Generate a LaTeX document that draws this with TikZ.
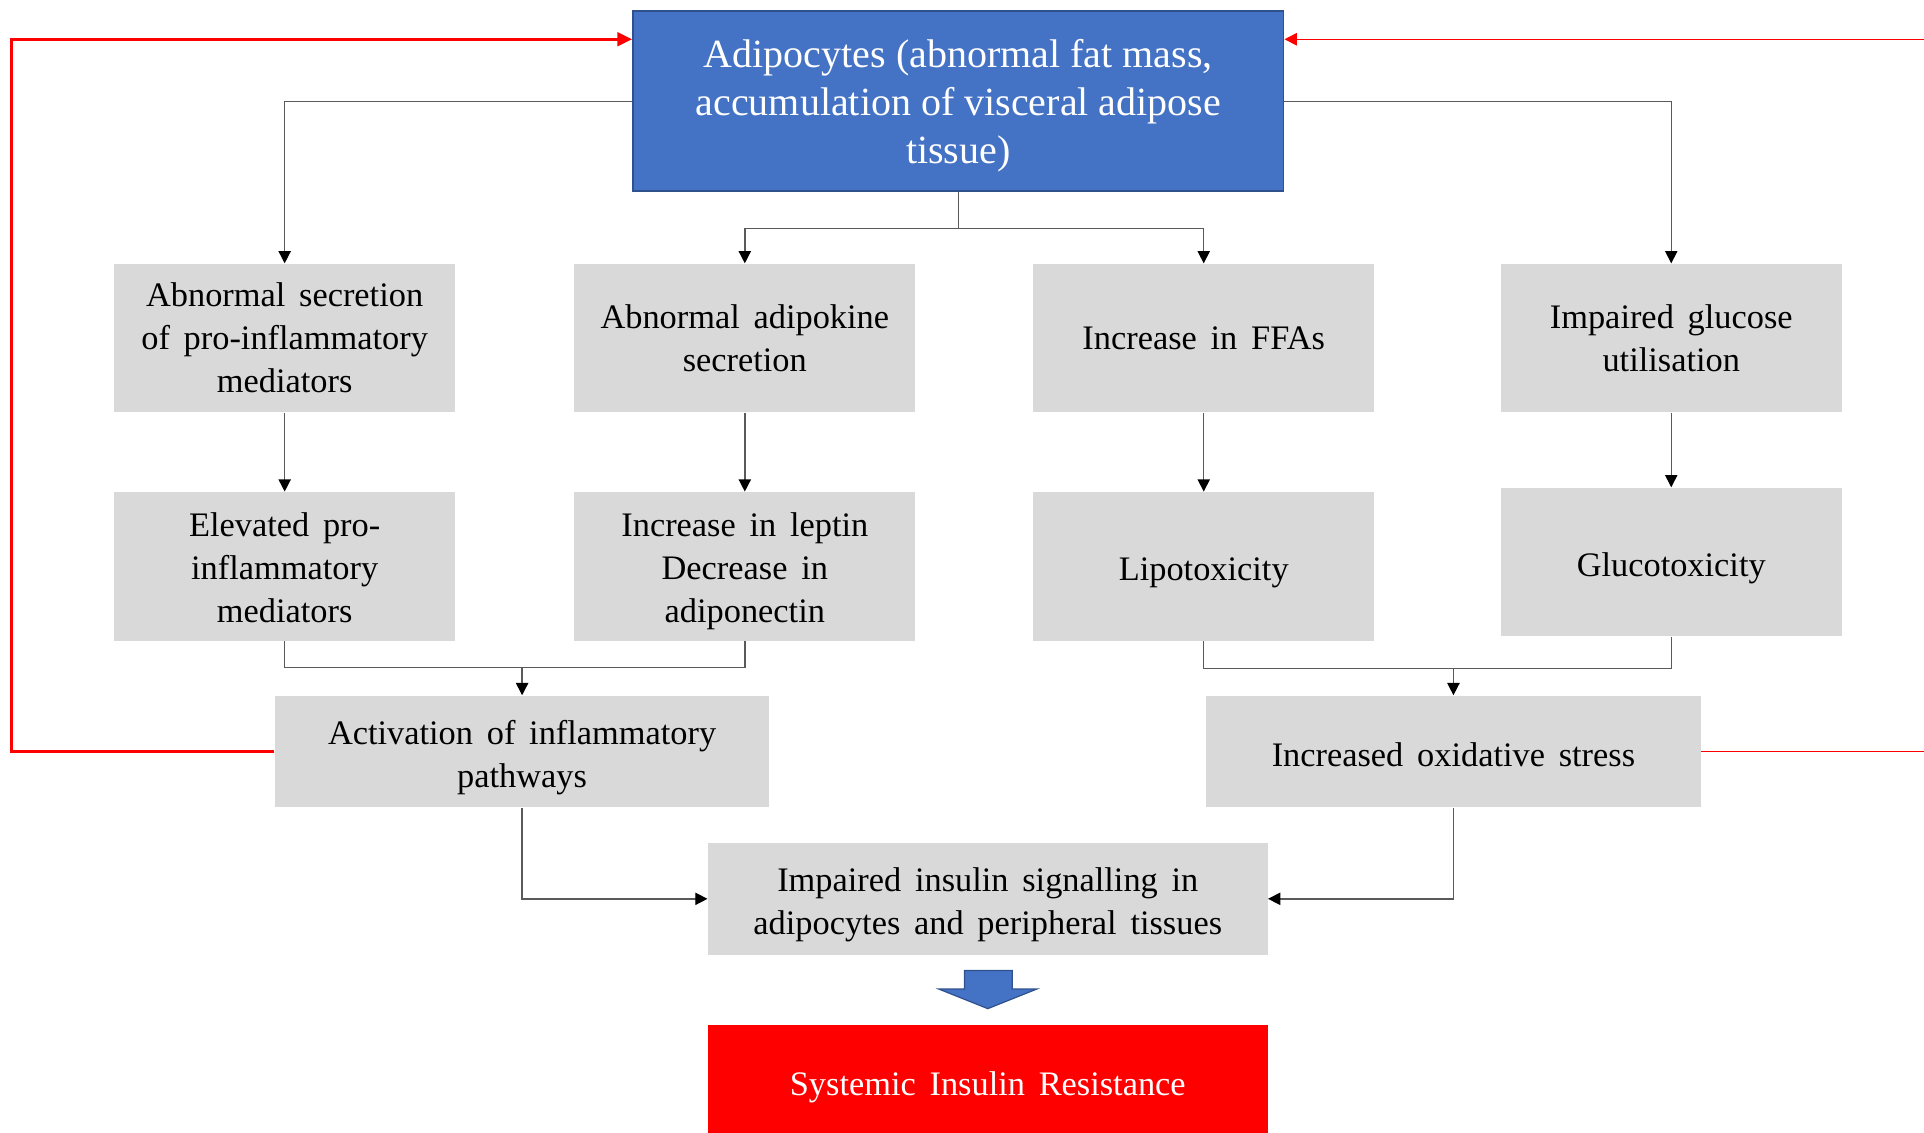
\documentclass[tikz,border=0pt]{standalone}
\usepackage{fontspec}
\setmainfont{Liberation Serif}
\newfontfamily\widefont[WordSpace=1.6]{Liberation Serif}
\usetikzlibrary{arrows.meta}
\definecolor{topblue}{HTML}{4472C4}
\definecolor{topedge}{HTML}{2F528F}
\definecolor{boxgray}{HTML}{D9D9D9}
\definecolor{linegray}{HTML}{5A5A5A}
\definecolor{fbred}{HTML}{FF0000}
\newcommand\lowtext[2]{\raisebox{-#1}[\height][\depth]{\begin{tabular}{@{}c@{}}#2\end{tabular}}}
\begin{document}
\begin{tikzpicture}[x=0.5pt,y=-0.5pt,
  gbox/.style={fill=boxgray, draw=none, inner sep=0pt,
    minimum width=139pt, minimum height=60.5pt,
    font=\widefont\fontsize{14}{17.5}\selectfont},
  wbox/.style={gbox, minimum width=201.5pt, minimum height=45.5pt},
  dbox/.style={gbox, minimum width=228pt, minimum height=45.5pt},
  conn/.style={draw=linegray, line width=0.6pt, -{Triangle[length=5pt,width=5pt,color=black]}},
  plainline/.style={draw=linegray, line width=0.6pt},
  redthick/.style={draw=fbred, line width=1.2pt, -{Triangle[length=6pt,width=5.5pt]}},
  redthin/.style={draw=fbred, line width=0.6pt},
]
\useasboundingbox (0,0) rectangle (1568,923);

\node[fill=topblue, draw=topedge, line width=0.8pt, text=white, inner sep=0pt,
  minimum width=265pt, minimum height=73.5pt, font=\fontsize{16.3}{19.5}\selectfont]
  (top) at (781,82.5) {\lowtext{1.8pt}{Adipocytes (abnormal fat mass,\\accumulation of visceral adipose\\tissue)}};

\node[gbox] (a1) at (232,275.5) {\lowtext{1.2pt}{Abnormal secretion\\of pro-inflammatory\\mediators}};
\node[gbox] (a2) at (607,275.5) {\lowtext{1.2pt}{Abnormal adipokine\\secretion}};
\node[gbox] (a3) at (981,275.5) {\lowtext{1.2pt}{Increase in FFAs}};
\node[gbox] (a4) at (1362,275.5) {\lowtext{1.2pt}{Impaired glucose\\utilisation}};

\node[gbox] (b1) at (232,461.5) {\lowtext{2pt}{Elevated pro-\\inflammatory\\mediators}};
\node[gbox] (b2) at (607,461.5) {\lowtext{2pt}{Increase in leptin\\Decrease in\\adiponectin}};
\node[gbox] (b3) at (981,461.5) {\lowtext{2.4pt}{Lipotoxicity}};
\node[gbox] (b4) at (1362,458) {\lowtext{2.4pt}{Glucotoxicity}};

\node[wbox] (c1) at (425.5,612.5) {\lowtext{2.4pt}{Activation of inflammatory\\pathways}};
\node[wbox] (c2) at (1184.5,612.5) {\lowtext{2.5pt}{Increased oxidative stress}};

\node[dbox] (d) at (805,732.5) {\lowtext{2.4pt}{Impaired insulin signalling in\\adipocytes and peripheral tissues}};

\node[dbox, fill=fbred, text=white, minimum height=44pt] (e) at (805,879) {\lowtext{3.5pt}{Systemic Insulin Resistance}};

% block arrow
\draw[fill=topblue, draw=topedge, line width=0.5pt]
  (786,791) -- (825,791) -- (825,806) -- (845,806) -- (805,822) -- (765,806) -- (786,806) -- cycle;

% connectors from top
\draw[conn] (top.west) -| (a1.north);
\draw[conn] (top.east) -| (a4.north);
\coordinate (split) at (781,186);
\draw[plainline] (top.south) -- (split);
\draw[conn] (split) -| (a2.north);
\draw[conn] (split) -| (a3.north);

\draw[conn] (a1.south) -- (b1.north);
\draw[conn] (a2.south) -- (b2.north);
\draw[conn] (a3.south) -- (b3.north);
\draw[conn] (a4.south) -- (b4.north);

\coordinate (m1) at (425.5,544);
\draw[plainline] (b1.south) |- (m1) -| (b2.south);
\draw[conn] (m1) -- (c1.north);
\coordinate (m2) at (1184.5,545);
\draw[plainline] (b3.south) |- (m2) -| (b4.south);
\draw[conn] (m2) -- (c2.north);

\draw[conn] (c1.south) |- (d.west);
\draw[conn] (c2.south) |- (d.east);

% red feedback lines
\coordinate (lt) at (9,32);
\draw[redthick] (c1.west) -| (lt) -- (top.west |- lt);
\coordinate (rb) at (1568,612.5);
\coordinate (rt) at (1568,32);
\draw[redthin] (c2.east) -- (rb);
\draw[redthin, -{Triangle[length=5pt,width=5pt]}] (rt) -- (top.east |- rt);
\end{tikzpicture}
\end{document}
